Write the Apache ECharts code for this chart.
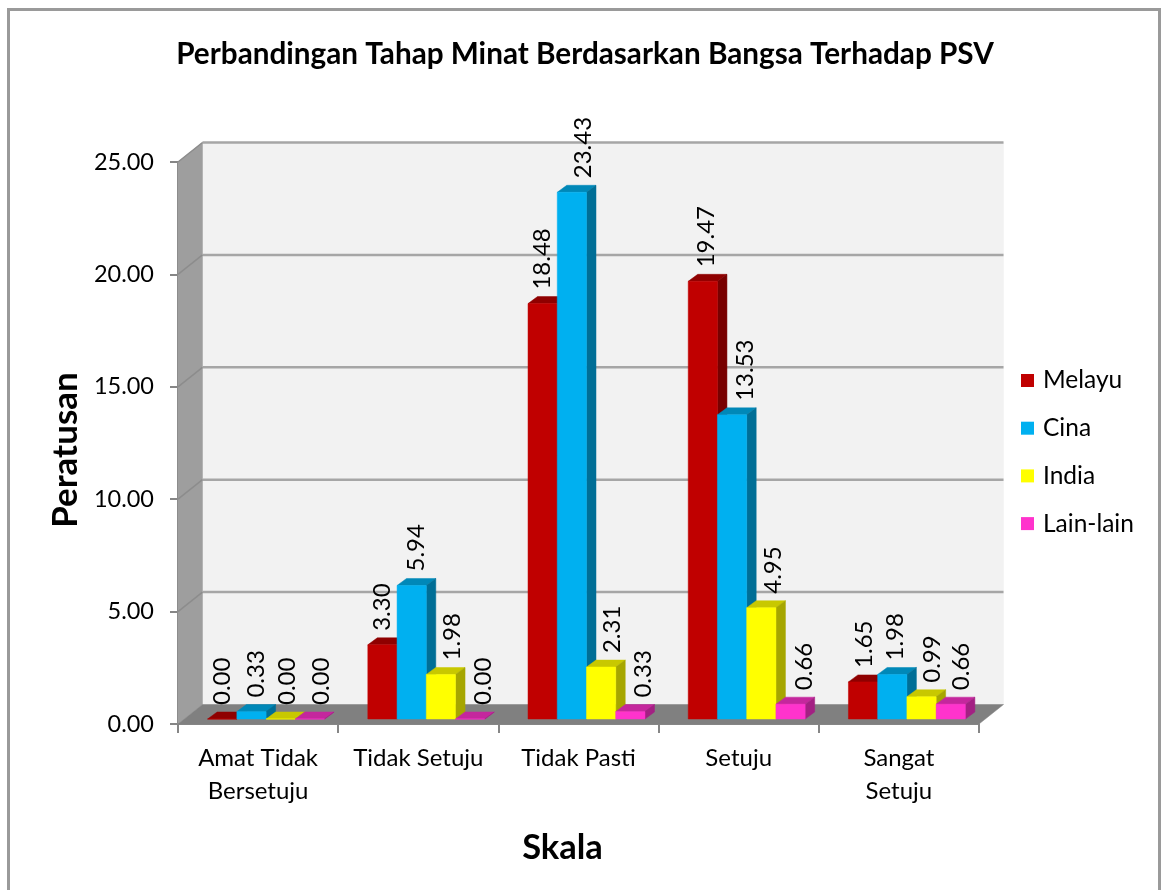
<!DOCTYPE html>
<html>
<head>
<meta charset="utf-8">
<style>html,body{margin:0;padding:0;background:#fff;overflow:hidden}#c{width:1163px;height:890px}</style>
<script src="https://cdn.jsdelivr.net/npm/echarts@6/dist/echarts.min.js"></script>
</head>
<body>
<div id="c"></div>
<script>
const categories = ['Amat Tidak\nBersetuju', 'Tidak Setuju', 'Tidak Pasti', 'Setuju', 'Sangat\nSetuju'];
const melayu = [0.00, 3.30, 18.48, 19.47, 1.65];
const cina = [0.33, 5.94, 23.43, 13.53, 1.98];
const india = [0.00, 1.98, 2.31, 4.95, 0.99];
const lainLain = [0.00, 0.00, 0.33, 0.66, 0.66];
const yTicks = [0, 5, 10, 15, 20, 25];

const FONT = 'Lato, "Open Sans", sans-serif';
const WALL_DX = 24.5, WALL_DY = -19.5;       // depth of the chart box
const BAR_DX = 9.5, BAR_DY = -7;             // depth of a bar
const FLOOR_DX = 8, FLOOR_DY = -5;           // where bars stand on the floor
const BAR_SHARE = 0.1825;                    // bar width as a share of a category
// sideways nudge of each value label from its bar's centre
const labelNudge = [
  [0, 5, 7, 11],
  [0, 5, 11, 13],
  [0, 11, 11, 13],
  [3, 13, 12, 14],
  [1, 3, 11, 11]
];

function quad(pts, fill, z2) {
  return { type: 'polygon', shape: { points: pts }, style: { fill: fill, stroke: fill, lineWidth: 0.5 }, z2: z2 };
}

function renderBox(params, api) {
  const cs = params.coordSys;
  const v = api.value(1);
  const y = api.coord([0, v])[1];
  const x0 = cs.x, x1 = cs.x + cs.width;
  const top = cs.y, bot = cs.y + cs.height;
  const kids = [];
  if (params.dataIndex === 0) {
    kids.push(quad([[x0 + WALL_DX, top + WALL_DY], [x1 + WALL_DX, top + WALL_DY], [x1 + WALL_DX, bot + WALL_DY], [x0 + WALL_DX, bot + WALL_DY]], '#F2F2F2', 0));
    kids.push(quad([[x0, top], [x0 + WALL_DX, top + WALL_DY], [x0 + WALL_DX, bot + WALL_DY], [x0, bot]], '#9E9E9E', 0));
    kids.push(quad([[x0, bot], [x0 + WALL_DX, bot + WALL_DY], [x1 + WALL_DX, bot + WALL_DY], [x1, bot]], '#808080', 0));
  }
  if (v > 0) {
    kids.push({ type: 'line', shape: { x1: x0 + WALL_DX, y1: y + WALL_DY, x2: x1 + WALL_DX, y2: y + WALL_DY }, style: { stroke: '#A6A6A6', lineWidth: 2.5 }, z2: 1 });
    kids.push({ type: 'line', shape: { x1: x0, y1: y, x2: x0 + WALL_DX, y2: y + WALL_DY }, style: { stroke: '#8C8C8C', lineWidth: 1.5 }, z2: 1 });
  }
  return { type: 'group', children: kids };
}

function barSeries(name, values, idx, front, topC, side) {
  return {
    type: 'custom',
    name: name,
    z: 2,
    itemStyle: { color: front },
    encode: { x: 0, y: 1 },
    data: values.map((v, i) => [i, v]),
    renderItem: function (params, api) {
      const cat = api.value(0), v = api.value(1);
      const c = api.coord([cat, v]);
      const base = api.coord([cat, 0]);
      const w = api.size([1, 0])[0] * BAR_SHARE;
      const xL = c[0] + FLOOR_DX + (idx - 2) * w;
      const xR = xL + w;
      const yT = c[1] + FLOOR_DY;
      const yB = base[1] + FLOOR_DY;
      const kids = [
        quad([[xL, yT], [xL + BAR_DX, yT + BAR_DY], [xR + BAR_DX, yT + BAR_DY], [xR, yT]], topC, 10 + idx),
        quad([[xR, yT], [xR + BAR_DX, yT + BAR_DY], [xR + BAR_DX, yB + BAR_DY], [xR, yB]], side, 10 + idx),
        quad([[xL, yT], [xR, yT], [xR, yB], [xL, yB]], front, 11 + idx),
        {
          type: 'text',
          x: xL + w / 2 + labelNudge[cat][idx],
          y: yT + BAR_DY - 7,
          rotation: Math.PI / 2,
          z2: 100,
          style: { text: v.toFixed(2), font: '24px ' + FONT, fill: '#000', align: 'left', verticalAlign: 'middle' }
        }
      ];
      return { type: 'group', children: kids };
    }
  };
}

const chart = echarts.init(document.getElementById('c'), null, { renderer: 'canvas' });
chart.setOption({
  animation: false,
  backgroundColor: '#fff',
  title: {
    text: 'Perbandingan Tahap Minat Berdasarkan Bangsa Terhadap PSV',
    left: 580, top: 34, textAlign: 'center',
    textStyle: { fontFamily: FONT, fontSize: 29.7, fontWeight: 'bold', color: '#000' }
  },
  graphic: [{
    type: 'rect', silent: true, z: -1,
    shape: { x: 8.5, y: 9.5, width: 1151, height: 920 },
    style: { fill: 'none', stroke: '#9A9A9A', lineWidth: 3 }
  }],
  legend: {
    orient: 'vertical', left: 1016, top: 363,
    itemWidth: 13, itemHeight: 13, itemGap: 22.7,
    icon: 'rect',
    textStyle: { fontFamily: FONT, fontSize: 24.5, lineHeight: 24, color: '#000', padding: [0, 0, 0, 4] },
    data: ['Melayu', 'Cina', 'India', 'Lain-lain']
  },
  grid: { left: 178, top: 162, width: 801, height: 562 },
  xAxis: {
    type: 'category', data: categories,
    name: 'Skala', nameLocation: 'middle', nameGap: 106,
    nameTextStyle: { fontFamily: FONT, fontSize: 34.5, fontWeight: 'bold', color: '#000', padding: [0, 32, 0, 0] },
    axisLine: { lineStyle: { color: '#868686', width: 2 } },
    axisTick: { show: true, length: 9, alignWithLabel: false, lineStyle: { color: '#868686', width: 2 } },
    axisLabel: { fontFamily: FONT, fontSize: 24, color: '#000', margin: 18, lineHeight: 33, interval: 0 },
    splitLine: { show: false }
  },
  yAxis: {
    type: 'value', min: 0, max: 25, interval: 5,
    name: 'Peratusan', nameLocation: 'middle', nameGap: 90, nameRotate: 90,
    nameTextStyle: { fontFamily: FONT, fontSize: 35, fontWeight: 'bold', color: '#000', padding: [0, 14, 0, 0] },
    axisLine: { show: true, lineStyle: { color: '#868686', width: 2 } },
    axisTick: { show: true, length: 8, lineStyle: { color: '#868686', width: 2 } },
    axisLabel: { fontFamily: FONT, fontSize: 23.5, color: '#000', margin: 24, formatter: v => v.toFixed(2) },
    splitLine: { show: false }
  },
  series: [
    {
      type: 'custom', z: 1, silent: true,
      encode: { x: 0, y: 1 },
      data: yTicks.map(t => [0, t]),
      renderItem: renderBox
    },
    barSeries('Melayu', melayu, 0, '#C00000', '#8F0000', '#780000'),
    barSeries('Cina', cina, 1, '#00B0F0', '#0088B8', '#006E96'),
    barSeries('India', india, 2, '#FFFF00', '#C8C800', '#A6A600'),
    barSeries('Lain-lain', lainLain, 3, '#FF33CC', '#C4279D', '#A32083')
  ]
});
</script>
</body>
</html>
